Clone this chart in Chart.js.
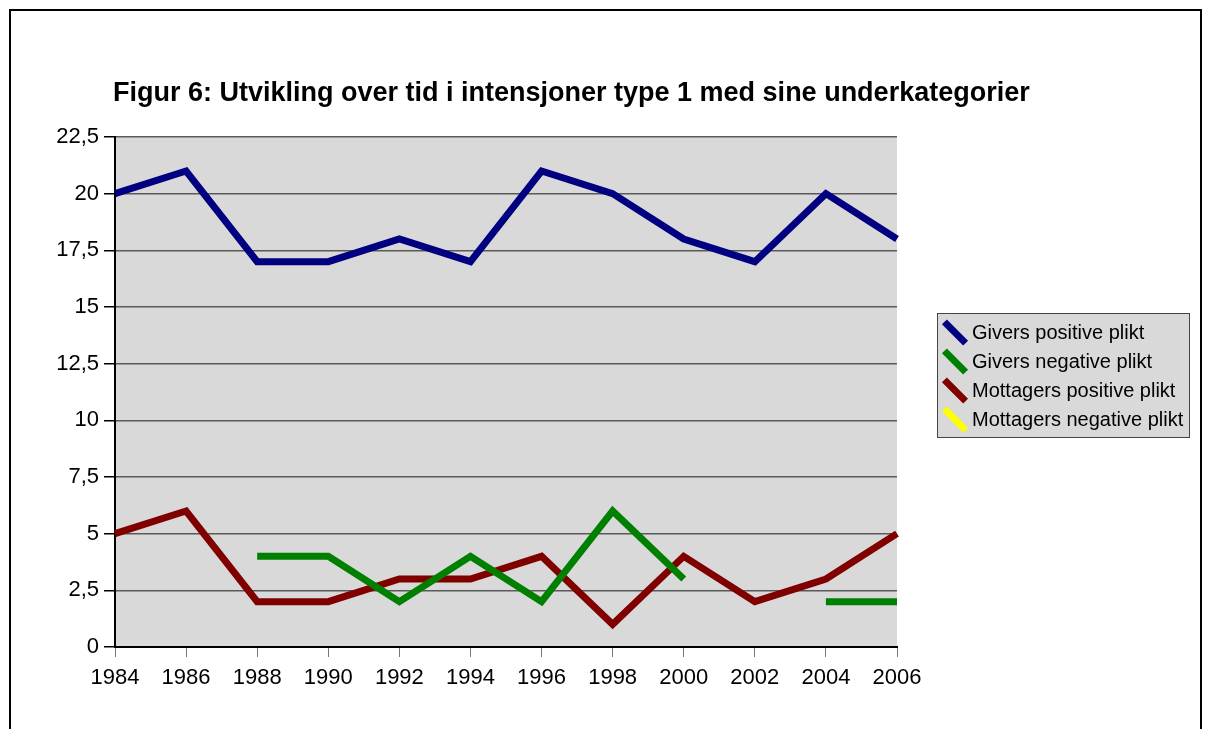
<!DOCTYPE html>
<html>
<head>
<meta charset="utf-8">
<script src="https://cdn.jsdelivr.net/npm/chart.js@4.4.1/dist/chart.umd.min.js"></script>
<style>
    html, body {
        margin: 0;
        padding: 0;
        background: #fff;
        overflow: hidden;
    }
    #wrap {
        position: relative;
        width: 1206px;
        height: 729px;
        font-family: "Liberation Sans", Arial, sans-serif;
    }
    #frame {
        position: absolute;
        left: 9px;
        top: 9px;
        width: 1189px;
        height: 740px;
        border: 2px solid #000;
    }
    #title {
        position: absolute;
        left: 113px;
        top: 77px;
        font-size: 27px;
        font-weight: bold;
        color: #000;
        white-space: nowrap;
    }
    #chart-box {
        position: absolute;
        left: 0;
        top: 0;
        width: 1206px;
        height: 729px;
    }
    #legend {
        position: absolute;
        left: 937px;
        top: 313px;
        width: 253px;
        height: 125px;
        box-sizing: border-box;
        background: #d9d9d9;
        border: 1px solid #444;
        padding-top: 4px;
    }
    .legend-row {
        position: relative;
        height: 29px;
        line-height: 29px;
        font-size: 20px;
        color: #000;
        padding-left: 34px;
        white-space: nowrap;
    }
    .legend-sym {
        position: absolute;
        left: 2px;
        top: 11px;
        width: 30px;
        height: 7px;
        transform: rotate(45deg);
    }
</style>
</head>
<body>
<div id="wrap">
    <div id="chart-box"><canvas id="chart" width="1206" height="729"></canvas></div>
    <div id="frame"></div>
    <div id="title">Figur 6: Utvikling over tid i intensjoner type 1 med sine underkategorier</div>
    <div id="legend"></div>
</div>
<script>
// Chart data
const years = ['1984', '1986', '1988', '1990', '1992', '1994', '1996', '1998', '2000', '2002', '2004', '2006'];
const giversPositive = [20, 21, 17, 17, 18, 17, 21, 20, 18, 17, 20, 18];
const giversNegative = [null, null, 4, 4, 2, 4, 2, 6, 3, null, 2, 2];
const mottagersPositive = [5, 6, 2, 2, 3, 3, 4, 1, 4, 2, 3, 5];
const mottagersNegative = [null, null, null, null, null, null, null, null, null, null, null, null];
const seriesNames = ['Givers positive plikt', 'Givers negative plikt', 'Mottagers positive plikt', 'Mottagers negative plikt'];
const seriesColors = ['#000080', '#008000', '#800000', '#ffff00'];
const yTicks = [0, 2.5, 5, 7.5, 10, 12.5, 15, 17.5, 20, 22.5];

const seriesValues = [giversPositive, giversNegative, mottagersPositive, mottagersNegative];

// gray plot area background
const plotBackground = {
    id: 'plotBackground',
    beforeDraw(chart) {
        const { ctx, chartArea } = chart;
        ctx.save();
        ctx.fillStyle = '#d9d9d9';
        ctx.fillRect(chartArea.left, chartArea.top, chartArea.right - chartArea.left, chartArea.bottom - chartArea.top);
        ctx.restore();
    }
};

const axisFont = { family: '"Liberation Sans", Arial, sans-serif', size: 22 };

new Chart(document.getElementById('chart'), {
    type: 'line',
    data: {
        labels: years,
        datasets: seriesValues.map((values, i) => ({
            label: seriesNames[i],
            data: values,
            borderColor: seriesColors[i],
            backgroundColor: seriesColors[i],
            borderWidth: 7,
            pointRadius: 0,
            tension: 0,
            spanGaps: false,
            borderJoinStyle: 'miter',
            borderCapStyle: 'butt'
        }))
    },
    options: {
        responsive: false,
        animation: false,
        layout: {
            padding: { left: 0, top: 137, right: 309, bottom: 40 }
        },
        plugins: {
            legend: { display: false },
            tooltip: { enabled: false }
        },
        scales: {
            x: {
                offset: false,
                afterFit: (scale) => { scale.height = 42; },
                grid: {
                    drawOnChartArea: false,
                    drawTicks: true,
                    tickLength: 10,
                    tickColor: '#777'
                },
                border: { color: '#000', width: 2 },
                ticks: {
                    color: '#000',
                    font: axisFont,
                    padding: 8,
                    maxRotation: 0,
                    autoSkip: false
                }
            },
            y: {
                min: 0,
                max: 22.5,
                afterFit: (scale) => { scale.width = 115; },
                afterBuildTicks: (scale) => { scale.ticks = yTicks.map(v => ({ value: v })); },
                grid: {
                    color: '#5a5a5a',
                    lineWidth: 1.5,
                    tickLength: 11,
                    tickColor: '#000'
                },
                border: { color: '#000', width: 2 },
                ticks: {
                    color: '#000',
                    font: axisFont,
                    padding: 5,
                    callback: (v) => String(v).replace('.', ',')
                }
            }
        }
    },
    plugins: [plotBackground]
});

// legend
const legend = document.getElementById('legend');
legend.innerHTML = seriesNames.map((name, i) => `
    <div class="legend-row">
        <span class="legend-sym" style="background:${seriesColors[i]}"></span>${name}
    </div>
`).join('');
</script>
</body>
</html>
